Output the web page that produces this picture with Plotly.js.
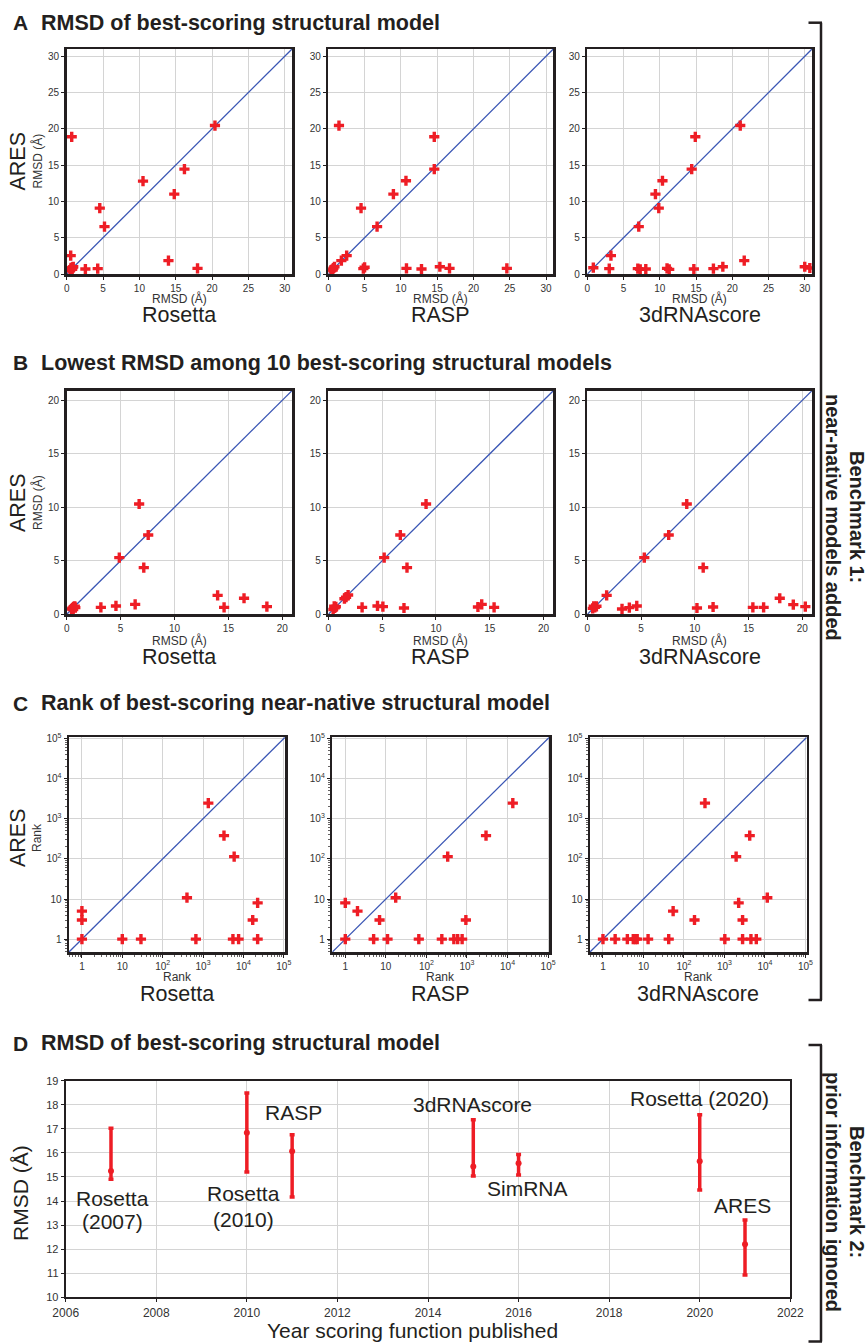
<!DOCTYPE html>
<html><head><meta charset="utf-8">
<script src="https://cdn.plot.ly/plotly-3.0.1.min.js"></script>
<style>html,body{margin:0;padding:0;background:#fff}</style>
</head><body><div id="chart" style="width:868px;height:1343px"></div>
<script>
// ================= DATA =================
const methods = ['Rosetta', 'RASP', '3dRNAscore'];

// A: RMSD (Å) of best-scoring structural model — x: other method, y: ARES
const A_rosetta_x = [0.69, 20.4, 10.5, 16.2, 14.8, 4.55, 5.2, 0.55, 14.0, 18.0, 2.57, 4.27, 0.45, 0.55, 0.65, 0.8, 0.9, 0.6, 0.75];
const A_rosetta_y = [18.9, 20.45, 12.8, 14.45, 11.0, 9.07, 6.53, 2.53, 1.84, 0.78, 0.69, 0.74, 0.45, 0.6, 0.75, 0.9, 1.0, 0.85, 0.65];
const A_rasp_x = [1.47, 14.6, 14.6, 10.7, 8.97, 4.51, 6.72, 2.53, 1.8, 4.83, 5.0, 10.77, 12.84, 15.37, 16.7, 24.6, 0.4, 0.55, 0.7, 0.85, 0.6];
const A_rasp_y = [20.45, 18.9, 14.45, 12.85, 11.0, 9.07, 6.53, 2.53, 1.84, 0.74, 0.92, 0.78, 0.69, 1.0, 0.78, 0.78, 0.45, 0.65, 0.8, 1.0, 0.55];
const A_3drna_x = [0.83, 3.03, 3.26, 6.97, 7.3, 8.07, 7.1, 9.4, 9.86, 10.37, 11.0, 11.3, 14.4, 14.9, 14.7, 17.4, 18.7, 21.1, 21.65, 30.0, 30.7];
const A_3drna_y = [0.87, 0.74, 2.53, 0.74, 0.65, 0.69, 6.53, 11.0, 9.07, 12.85, 0.78, 0.64, 14.45, 18.9, 0.69, 0.74, 1.0, 20.45, 1.84, 1.0, 0.83];

// B: lowest RMSD (Å) among 10 best-scoring structural models
const B_rosetta_x = [6.72, 7.56, 4.88, 7.15, 3.17, 4.57, 6.35, 14.0, 14.6, 16.45, 18.57, 0.45, 0.55, 0.65, 0.75, 0.6, 0.8];
const B_rosetta_y = [10.31, 7.41, 5.3, 4.36, 0.65, 0.78, 0.93, 1.77, 0.65, 1.5, 0.72, 0.5, 0.6, 0.7, 0.75, 0.45, 0.62];
const B_rasp_x = [9.08, 6.69, 5.19, 7.31, 1.84, 1.5, 1.65, 3.14, 4.57, 5.07, 7.03, 13.9, 14.25, 15.4, 0.45, 0.6, 0.7, 0.55];
const B_rasp_y = [10.31, 7.41, 5.3, 4.36, 1.8, 1.46, 1.6, 0.65, 0.78, 0.72, 0.59, 0.68, 0.93, 0.65, 0.45, 0.6, 0.7, 0.75];
const B_3drna_x = [9.25, 7.57, 5.3, 10.78, 1.8, 3.23, 3.91, 4.6, 10.2, 11.7, 15.4, 16.4, 17.9, 19.16, 20.28, 0.5, 0.7, 0.85, 0.6];
const B_3drna_y = [10.31, 7.41, 5.3, 4.36, 1.77, 0.5, 0.62, 0.78, 0.59, 0.68, 0.65, 0.65, 1.5, 0.9, 0.72, 0.55, 0.65, 0.75, 0.75];

// C: rank of best-scoring near-native structural model
const C_rosetta_x = [1, 1, 1, 10, 29, 665, 5500, 7600, 22500, 17000, 22500, 400, 1350, 3300, 5900];
const C_rosetta_y = [5, 3, 1, 1, 1, 1, 1, 1, 1, 3, 8, 10.8, 2450, 380, 114];
const C_rasp_x = [1, 1, 2, 5, 7, 11, 17.5, 65, 240, 475, 590, 760, 940, 335, 2950, 13500];
const C_rasp_y = [8, 1, 5, 1, 3, 1, 10.8, 1, 1, 1, 1, 1, 3, 114, 380, 2450];
const C_3drna_x = [1, 2, 4, 5.6, 6.3, 7, 13, 42, 54, 182, 1020, 2240, 2800, 2800, 4500, 6100, 11400, 1940, 4200, 330];
const C_3drna_y = [1, 1, 1, 1, 1, 1, 1, 1, 5, 3, 1, 8, 3, 1, 1, 1, 10.8, 114, 380, 2450];

// D: RMSD (Å) of best-scoring structural model vs. year published
const D_names = ['Rosetta (2007)', 'Rosetta (2010)', 'RASP', '3dRNAscore', 'SimRNA', 'Rosetta (2020)', 'ARES'];
const D_year = [2007, 2010, 2011, 2015, 2016, 2020, 2021];
const D_median = [15.25, 16.84, 16.07, 15.44, 15.57, 15.65, 12.2];
const D_upper = [17.02, 18.49, 16.75, 17.38, 15.93, 17.58, 13.21];
const D_lower = [14.9, 15.21, 14.17, 15.04, 15.08, 14.46, 10.93];

const logTickVals = [1, 10, 100, 1000, 10000, 100000];
const logTickText = ['1', '10', '10<sup>2</sup>', '10<sup>3</sup>', '10<sup>4</sup>', '10<sup>5</sup>'];

// ================= LAYOUT =================
const W = 868, H = 1343;
const px = x => x / W, py = y => 1 - y / H;
const FONT = '"Liberation Sans", Arial, Helvetica, sans-serif';
const RED = '#ee1d25', BLUE = '#3a56b4', INK = '#231f20', GRID = '#d4d4d4';

const rangeA = [0, 31], rangeB = [0, 20.9], rangeC = [-0.32, 5.03];

const colsAB = [[66.7, 292], [328.3, 553.3], [587.3, 812]];
const colsC = [[69, 285], [332.3, 549.3], [590, 806.7]];
const rows = [
  {y0: 49, y1: 274, cols: colsAB, kind: 'lin', range: rangeA, dtick: 5,
   data: [[A_rosetta_x, A_rosetta_y], [A_rasp_x, A_rasp_y], [A_3drna_x, A_3drna_y]],
   small: 'RMSD (Å)', smallY: 298.5, bigY: 315, ylabY: 161.5},
  {y0: 390.7, y1: 614.3, cols: colsAB, kind: 'lin', range: rangeB, dtick: 5,
   data: [[B_rosetta_x, B_rosetta_y], [B_rasp_x, B_rasp_y], [B_3drna_x, B_3drna_y]],
   small: 'RMSD (Å)', smallY: 640.5, bigY: 656.5, ylabY: 503},
  {y0: 737.3, y1: 952, cols: colsC, kind: 'log', range: rangeC,
   data: [[C_rosetta_x, C_rosetta_y], [C_rasp_x, C_rasp_y], [C_3drna_x, C_3drna_y]],
   small: 'Rank', smallY: 977, bigY: 993.5, ylabY: 838}
];

const traces = [];
const layout = {
  width: W, height: H, margin: {l: 0, r: 0, t: 0, b: 0},
  paper_bgcolor: '#fff', plot_bgcolor: '#fff', showlegend: false,
  font: {family: FONT, color: INK},
  annotations: [], shapes: []
};

function axisBase(extra) {
  return Object.assign({
    showgrid: true, gridcolor: GRID, gridwidth: 1, zeroline: false,
    showline: true, linecolor: INK, linewidth: 2.5, mirror: true,
    ticks: 'outside', ticklen: 3, tickwidth: 1, tickcolor: INK,
    tickfont: {family: FONT, size: 10, color: '#333'}, fixedrange: true
  }, extra);
}

function ann(text, x, y, size, o) {
  layout.annotations.push(Object.assign({
    text: text, x: px(x), y: py(y), xref: 'paper', yref: 'paper',
    showarrow: false, xanchor: 'center', yanchor: 'middle',
    font: {family: FONT, size: size, color: INK}
  }, o || {}));
}

let k = 0;
rows.forEach(row => {
  row.cols.forEach((c, j) => {
    k++;
    const xa = k === 1 ? 'xaxis' : 'xaxis' + k;
    const ya = k === 1 ? 'yaxis' : 'yaxis' + k;
    const xr = k === 1 ? 'x' : 'x' + k;
    const yr = k === 1 ? 'y' : 'y' + k;
    if (row.kind === 'lin') {
      layout[xa] = axisBase({domain: [px(c[0]), px(c[1])], range: row.range, tick0: 0, dtick: row.dtick, anchor: yr});
      layout[ya] = axisBase({domain: [py(row.y1), py(row.y0)], range: row.range, tick0: 0, dtick: row.dtick, anchor: xr});
    } else {
      const lg = {type: 'log', range: row.range, tickmode: 'array', tickvals: logTickVals, ticktext: logTickText,
        minor: {ticks: 'outside', ticklen: 2, tickwidth: 0.7, tickcolor: INK, dtick: 'D1', showgrid: false}};
      layout[xa] = axisBase(Object.assign({domain: [px(c[0]), px(c[1])], anchor: yr}, lg));
      layout[ya] = axisBase(Object.assign({domain: [py(row.y1), py(row.y0)], anchor: xr}, lg));
    }
    // y = x diagonal across the axis range
    const diag = row.kind === 'lin' ? row.range : row.range.map(v => Math.pow(10, v));
    traces.push({type: 'scatter', mode: 'lines', x: diag, y: diag, xaxis: xr, yaxis: yr,
      line: {color: BLUE, width: 1.3}, hoverinfo: 'skip', cliponaxis: true});
    traces.push({type: 'scatter', mode: 'markers', x: row.data[j][0], y: row.data[j][1], xaxis: xr, yaxis: yr,
      marker: {symbol: 'cross', size: 8.5, color: RED, line: {width: 0}}, cliponaxis: true});
    const cx = (c[0] + c[1]) / 2;
    ann(row.small, cx, row.smallY, 12, {font: {family: FONT, size: 12, color: '#333'}});
    ann(methods[j], cx, row.bigY, 21.5);
  });
  ann('ARES', 18, row.ylabY, 21.5, {textangle: -90});
  ann(row.small, 37, row.ylabY, 12, {textangle: -90, font: {family: FONT, size: 12, color: '#333'}});
});

// Panel D
layout.xaxis10 = axisBase({domain: [px(65.7), px(790.3)], range: [2006, 2022], tick0: 2006, dtick: 2, anchor: 'y10',
  linewidth: 2, tickfont: {family: FONT, size: 12, color: '#333'}});
layout.yaxis10 = axisBase({domain: [py(1297.3), py(1080.7)], range: [10, 19], tick0: 10, dtick: 1, anchor: 'x10',
  linewidth: 2, tickfont: {family: FONT, size: 11, color: '#333'}});
traces.push({type: 'scatter', mode: 'markers', x: D_year, y: D_median, text: D_names, xaxis: 'x10', yaxis: 'y10',
  marker: {symbol: 'circle', size: 6, color: RED},
  error_y: {type: 'data', symmetric: false,
    array: D_upper.map((u, i) => u - D_median[i]),
    arrayminus: D_lower.map((l, i) => D_median[i] - l),
    color: RED, thickness: 3.5, width: 2.5},
  cliponaxis: false});

function dAnn(text, x, y) {
  layout.annotations.push({text: text, x: x, y: y, xref: 'x10', yref: 'y10', showarrow: false,
    xanchor: 'center', yanchor: 'middle', font: {family: FONT, size: 21, color: INK}});
}
dAnn('Rosetta', 2007.03, 14.11); dAnn('(2007)', 2007.03, 13.14);
dAnn('Rosetta', 2009.92, 14.32); dAnn('(2010)', 2009.92, 13.24);
dAnn('RASP', 2011.04, 17.69);
dAnn('3dRNAscore', 2014.98, 18.03);
dAnn('SimRNA', 2016.19, 14.53);
dAnn('Rosetta (2020)', 2019.99, 18.24);
dAnn('ARES', 2020.94, 13.81);

ann('RMSD (Å)', 20, 1193, 21, {textangle: -90});
ann('Year scoring function published', 412.5, 1330, 21);

// Panel titles
const titles = [['A', 'RMSD of best-scoring structural model', 22.7],
  ['B', 'Lowest RMSD among 10 best-scoring structural models', 363],
  ['C', 'Rank of best-scoring near-native structural model', 703],
  ['D', 'RMSD of best-scoring structural model', 1043]];
titles.forEach(t => {
  ann('<b>' + t[0] + '</b>', 11, t[2], 21, {xanchor: 'left'});
  ann('<b>' + t[1] + '</b>', 38.5, t[2], 21.5, {xanchor: 'left'});
});

// Benchmark brackets and labels
function line(x0, y0, x1, y1) {
  layout.shapes.push({type: 'line', xref: 'paper', yref: 'paper', x0: px(x0), y0: py(y0), x1: px(x1), y1: py(y1),
    line: {color: INK, width: 2.5}});
}
line(821, 22.7, 821, 1000); line(808.5, 22.7, 822, 22.7); line(808.5, 1000, 822, 1000);
line(821, 1045, 821, 1341.5); line(808.5, 1045, 822, 1045); line(808.5, 1341.5, 822, 1341.5);

ann('<b>Benchmark 1:</b>', 857, 517, 20, {textangle: 90});
ann('<b>near-native models added</b>', 833, 517, 20, {textangle: 90});
ann('<b>Benchmark 2:</b>', 857, 1192, 20, {textangle: 90});
ann('<b>prior information ignored</b>', 833, 1192, 20, {textangle: 90});

Plotly.newPlot('chart', traces, layout, {staticPlot: true, displayModeBar: false});
</script>
</body></html>
